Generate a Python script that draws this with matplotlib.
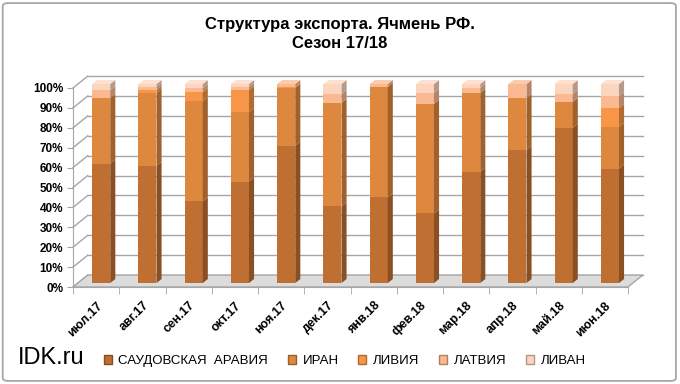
import matplotlib
matplotlib.use('Agg')
import matplotlib.pyplot as plt
from matplotlib.patches import Polygon, Patch, FancyBboxPatch
from matplotlib.colors import to_rgb

plt.rcParams['font.family'] = ['Liberation Sans', 'DejaVu Sans']

months = ['июл.17', 'авг.17', 'сен.17', 'окт.17', 'ноя.17', 'дек.17',
          'янв.18', 'фев.18', 'мар.18', 'апр.18', 'май.18', 'июн.18']
saudi = [60, 59, 41, 51, 69, 38.5, 43, 35, 56, 67, 78, 57.5]
iran = [33, 36.5, 50.5, 35, 29, 52, 55.5, 55, 39.5, 26, 13, 21]
libya = [0, 1.5, 4.5, 11, 0.5, 0, 0, 0, 0, 0, 0, 9.5]
latvia = [4, 1.5, 2, 1.5, 1.5, 4.5, 1.5, 5.5, 2.5, 7, 4, 6]
lebanon = [3, 1.5, 2, 1.5, 0, 5, 0, 4.5, 2, 0, 5, 6]

names = ['САУДОВСКАЯ  АРАВИЯ', 'ИРАН', 'ЛИВИЯ', 'ЛАТВИЯ', 'ЛИВАН']
colors = ['#BF6F32', '#DE873F', '#F79646', '#FAB990', '#FCD5BF']


def shade(c, k):
    r, g, b = to_rgb(c)
    return (r * k, g * k, b * k)


def tint(c, k):
    r, g, b = to_rgb(c)
    return (r + (1 - r) * k, g + (1 - g) * k, b + (1 - b) * k)


fig = plt.figure(figsize=(6.8, 3.84), dpi=100)

# outer frame
fig.patches.append(FancyBboxPatch((0.004, 0.008), 0.99, 0.984,
                                  boxstyle='round,pad=0,rounding_size=0.008',
                                  transform=fig.transFigure, fc='none',
                                  ec='#A6A6A6', lw=1.3))

ax = fig.add_axes([73 / 680, 97 / 384, 555 / 680, 199 / 384])
ax.patch.set_visible(False)

# depth of the walls and of the bars (data units)
wdx, wdy = 0.32, 6
bdx, bdy = 0.11, 2
sdx, sdy = 0.11, 2
w = 0.39
n = len(months)

# back wall and side wall grid
for v in range(0, 101, 10):
    ax.plot([-0.5 + wdx, n - 0.5 + wdx], [v + wdy, v + wdy], color='#A6A6A6',
            lw=1, clip_on=False, zorder=1)
    ax.plot([-0.5, -0.5 + wdx], [v, v + wdy], color='#A6A6A6', lw=1,
            clip_on=False, zorder=1)

# floor
ax.add_patch(Polygon([(-0.5, 0), (n - 0.5, 0), (n - 0.5 + wdx, wdy), (-0.5 + wdx, wdy)],
                     fc='#DCDCDC', ec='#A6A6A6', lw=1, zorder=2, clip_on=False))

series = [saudi, iran, libya, latvia, lebanon]
bottoms = [0] * n
top_color = [colors[0]] * n
for s, c in zip(series, colors):
    xs = [i + bdx for i in range(n)]
    ax.bar(xs, s, bottom=[b + bdy for b in bottoms], width=w, color=c,
           zorder=3, clip_on=False)
    for i, (h, b) in enumerate(zip(s, bottoms)):
        if h <= 0:
            continue
        top_color[i] = c
        xr = i + bdx + w / 2
        ax.add_patch(Polygon([(xr, b + bdy), (xr + sdx, b + bdy + sdy),
                              (xr + sdx, b + h + bdy + sdy), (xr, b + h + bdy)],
                             fc=shade(c, 0.72), ec='none', zorder=3, clip_on=False))
    bottoms = [b + h for b, h in zip(bottoms, s)]

# top faces
for i in range(n):
    xl = i + bdx - w / 2
    t = bottoms[i] + bdy
    ax.add_patch(Polygon([(xl, t), (xl + w, t), (xl + w + sdx, t + sdy), (xl + sdx, t + sdy)],
                         fc=tint(top_color[i], 0.25), ec='none', zorder=3, clip_on=False))

ax.set_xlim(-0.5, n - 0.5)
ax.set_ylim(0, 100)

ax.set_yticks(range(0, 101, 10))
ax.set_yticklabels([f'{v}%' for v in range(0, 101, 10)], fontweight='bold', fontsize=8.5)
ax.tick_params(axis='y', length=4, color='#A6A6A6', pad=3)

ax.set_xticks(range(n))
ax.set_xticklabels(months, rotation=45, ha='right', rotation_mode='anchor',
                   fontweight='bold', fontsize=9)
ax.set_xticks([i - 0.5 for i in range(n + 1)], minor=True)
ax.tick_params(axis='x', which='major', length=0, pad=9)
ax.tick_params(axis='x', which='minor', length=5, color='#A6A6A6')

for side in ['top', 'right']:
    ax.spines[side].set_visible(False)
for side in ['left', 'bottom']:
    ax.spines[side].set_color('#A6A6A6')

fig.text(0.5, 1 - 24 / 384, 'Структура экспорта. Ячмень РФ.', ha='center', va='center',
         fontsize=12, fontweight='bold')
fig.text(0.5, 1 - 43 / 384, 'Сезон 17/18', ha='center', va='center',
         fontsize=12, fontweight='bold')

fig.text(18 / 680, 1 - 358 / 384, 'IDK.ru', fontsize=17, va='center')

handles = [Patch(facecolor=c, edgecolor=shade(c, 0.7)) for c in colors]
fig.legend(handles, names, loc='center left', bbox_to_anchor=(92 / 680, 1 - 361 / 384),
           ncol=5, frameon=False, fontsize=9.5,
           handlelength=0.6, handleheight=0.6, handletextpad=0.5, columnspacing=1.5)

fig.savefig('out.png', dpi=100)
